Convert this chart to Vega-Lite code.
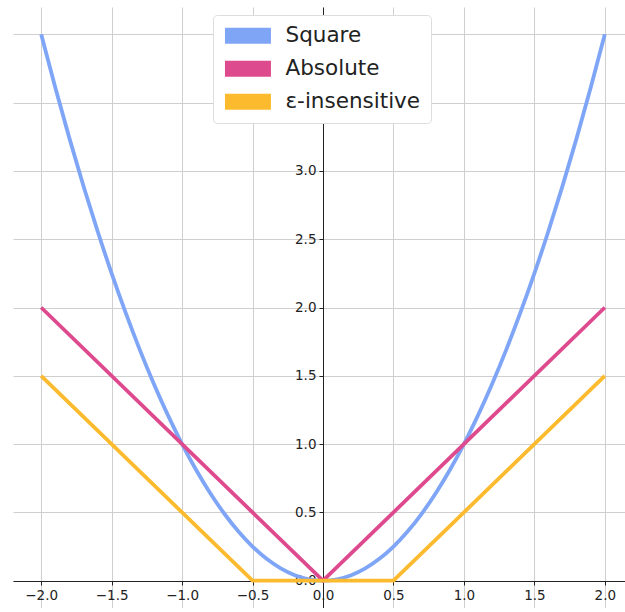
{
  "$schema": "https://vega.github.io/schema/vega-lite/v6.json",
  "autosize": {"type": "none"},
  "padding": {"left": 13, "top": 7, "right": 0, "bottom": 0},
  "width": 620,
  "height": 601,
  "background": "white",
  "config": {
    "view": {"stroke": null},
    "font": "DejaVu Sans"
  },
  "datasets": {
    "square": [
      {"x": -2.0, "y": 4.00, "loss": "Square"},
      {"x": -1.9, "y": 3.61, "loss": "Square"},
      {"x": -1.8, "y": 3.24, "loss": "Square"},
      {"x": -1.7, "y": 2.89, "loss": "Square"},
      {"x": -1.6, "y": 2.56, "loss": "Square"},
      {"x": -1.5, "y": 2.25, "loss": "Square"},
      {"x": -1.4, "y": 1.96, "loss": "Square"},
      {"x": -1.3, "y": 1.69, "loss": "Square"},
      {"x": -1.2, "y": 1.44, "loss": "Square"},
      {"x": -1.1, "y": 1.21, "loss": "Square"},
      {"x": -1.0, "y": 1.00, "loss": "Square"},
      {"x": -0.9, "y": 0.81, "loss": "Square"},
      {"x": -0.8, "y": 0.64, "loss": "Square"},
      {"x": -0.7, "y": 0.49, "loss": "Square"},
      {"x": -0.6, "y": 0.36, "loss": "Square"},
      {"x": -0.5, "y": 0.25, "loss": "Square"},
      {"x": -0.4, "y": 0.16, "loss": "Square"},
      {"x": -0.3, "y": 0.09, "loss": "Square"},
      {"x": -0.2, "y": 0.04, "loss": "Square"},
      {"x": -0.1, "y": 0.01, "loss": "Square"},
      {"x": 0.0, "y": 0.00, "loss": "Square"},
      {"x": 0.1, "y": 0.01, "loss": "Square"},
      {"x": 0.2, "y": 0.04, "loss": "Square"},
      {"x": 0.3, "y": 0.09, "loss": "Square"},
      {"x": 0.4, "y": 0.16, "loss": "Square"},
      {"x": 0.5, "y": 0.25, "loss": "Square"},
      {"x": 0.6, "y": 0.36, "loss": "Square"},
      {"x": 0.7, "y": 0.49, "loss": "Square"},
      {"x": 0.8, "y": 0.64, "loss": "Square"},
      {"x": 0.9, "y": 0.81, "loss": "Square"},
      {"x": 1.0, "y": 1.00, "loss": "Square"},
      {"x": 1.1, "y": 1.21, "loss": "Square"},
      {"x": 1.2, "y": 1.44, "loss": "Square"},
      {"x": 1.3, "y": 1.69, "loss": "Square"},
      {"x": 1.4, "y": 1.96, "loss": "Square"},
      {"x": 1.5, "y": 2.25, "loss": "Square"},
      {"x": 1.6, "y": 2.56, "loss": "Square"},
      {"x": 1.7, "y": 2.89, "loss": "Square"},
      {"x": 1.8, "y": 3.24, "loss": "Square"},
      {"x": 1.9, "y": 3.61, "loss": "Square"},
      {"x": 2.0, "y": 4.00, "loss": "Square"}
    ],
    "piecewise": [
      {"x": -2.0, "y": 2.0, "loss": "Absolute"},
      {"x": 0.0, "y": 0.0, "loss": "Absolute"},
      {"x": 2.0, "y": 2.0, "loss": "Absolute"},
      {"x": -2.0, "y": 1.5, "loss": "ε-insensitive"},
      {"x": -0.5, "y": 0.0, "loss": "ε-insensitive"},
      {"x": 0.5, "y": 0.0, "loss": "ε-insensitive"},
      {"x": 2.0, "y": 1.5, "loss": "ε-insensitive"}
    ]
  },
  "encoding": {
    "x": {
      "field": "x", "type": "quantitative",
      "scale": {"domain": [-2.2, 2.2], "nice": false, "zero": false},
      "axis": {
        "title": null, "orient": "bottom", "offset": -27,
        "values": [-2, -1.5, -1, -0.5, 0, 0.5, 1, 1.5, 2],
        "format": ".1f",
        "grid": true, "gridColor": "#cfcfcf", "gridWidth": 1,
        "domainColor": "#222", "domainWidth": 1,
        "tickColor": "#222", "tickSize": 4, "tickWidth": 1,
        "labelFontSize": 13.5, "labelColor": "#222", "labelPadding": 3,
        "labelFont": "DejaVu Sans"
      }
    },
    "y": {
      "field": "y", "type": "quantitative",
      "scale": {"domain": [-0.2, 4.2], "nice": false, "zero": false},
      "axis": {
        "title": null, "orient": "left", "offset": -310,
        "values": [0, 0.5, 1, 1.5, 2, 2.5, 3, 3.5, 4],
        "format": ".1f",
        "grid": true, "gridColor": "#cfcfcf", "gridWidth": 1,
        "domainColor": "#222", "domainWidth": 1,
        "tickColor": "#222", "tickSize": 4, "tickWidth": 1,
        "labelFontSize": 13.5, "labelColor": "#222", "labelPadding": 3,
        "labelFont": "DejaVu Sans"
      }
    },
    "color": {
      "field": "loss", "type": "nominal",
      "sort": ["Square", "Absolute", "ε-insensitive"],
      "scale": {"domain": ["Square", "Absolute", "ε-insensitive"], "range": ["#7fa5f6", "#de4a8e", "#fcbb2e"]},
      "legend": {
        "title": null,
        "orient": "none", "legendX": 200, "legendY": 8,
        "fillColor": "white", "strokeColor": "#dddddd", "cornerRadius": 4,
        "padding": 10,
        "symbolType": "M-1.1,-1H4.65V1H-1.1Z",
        "symbolSize": 256,
        "symbolStrokeWidth": 0,
        "labelFontSize": 21.5, "labelFont": "DejaVu Sans", "labelColor": "#222",
        "labelOffset": 41, "rowPadding": 10,
        "encode": {
          "symbols": {"update": {"fill": {"scale": "color", "field": "value"}, "opacity": {"value": 1}, "fillOpacity": {"value": 1}}}
        }
      }
    },
    "order": {"field": "x", "type": "quantitative"}
  },
  "layer": [
    {
      "data": {"name": "square"},
      "mark": {"type": "line", "strokeWidth": 3.8, "interpolate": "monotone", "clip": true}
    },
    {
      "data": {"name": "piecewise"},
      "mark": {"type": "line", "strokeWidth": 3.8, "clip": true}
    }
  ]
}
